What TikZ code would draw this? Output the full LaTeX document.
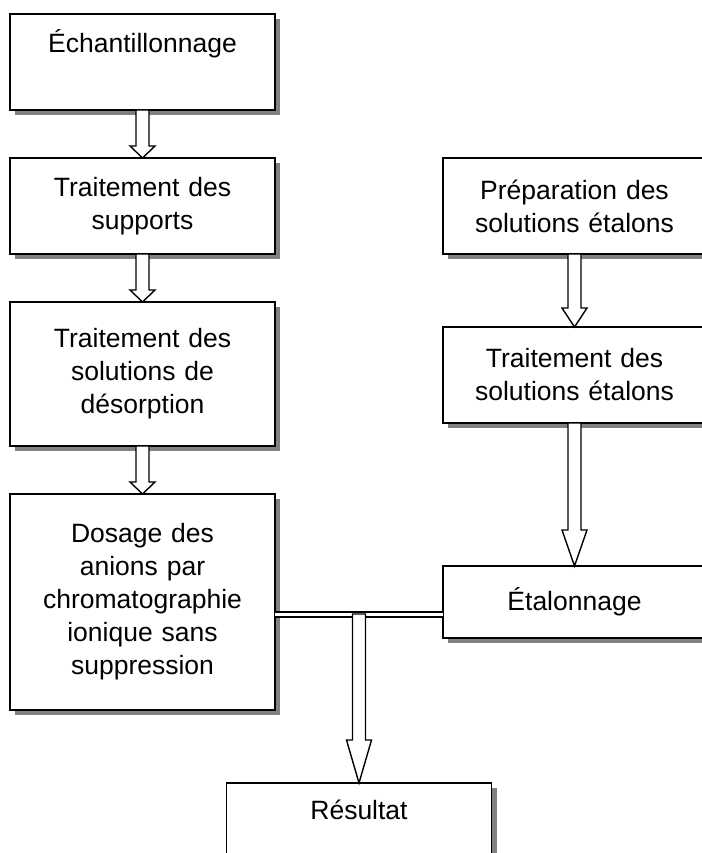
\documentclass[tikz,border=0pt]{standalone}
\usepackage{fontspec}
\setmainfont{Liberation Sans}
\usetikzlibrary{positioning,calc,shadows}
\definecolor{shade}{HTML}{808080}
\tikzset{
  stepbox/.style={draw=black,line width=1.4pt,fill=white,align=center,
                  text width=250pt,minimum width=265pt,inner sep=2pt,outer sep=0pt,
                  font=\fontsize{26.5pt}{33pt}\selectfont,
                  drop shadow={shadow xshift=5pt,shadow yshift=-5pt,fill=shade,opacity=1}},
  fatflow/.style={draw=black,line width=1.4pt,fill=white,line join=miter},
  twinline/.style={draw=black,line width=2pt,double=white,double distance=3pt},
}
% hollow block arrow: tail, tip, head length
\newcommand{\fatarrow}[3]{%
  \draw[fatflow] ([xshift=-6.5pt]#1) -- ([xshift=-6.5pt,yshift=#3]#2)
    -- ([xshift=-12.5pt,yshift=#3]#2) -- (#2)
    -- ([xshift=12.5pt,yshift=#3]#2) -- ([xshift=6.5pt,yshift=#3]#2)
    -- ([xshift=6.5pt]#1) -- cycle;}

\begin{document}
\begin{tikzpicture}[x=1pt,y=-1pt,node distance=48pt]
\useasboundingbox (0,0) rectangle (701,853);

% --- sample branch ---
\node[stepbox, minimum height=96pt] at (142.5,62) (ech) {Échantillonnage\\\strut};
\node[stepbox, minimum height=96pt, below=of ech]  (supp) {Traitement des\\supports};
\node[stepbox, minimum height=144pt, below=of supp] (deso) {Traitement des\\solutions de\\désorption};
\node[stepbox, minimum height=216pt, below=of deso] (dos)  {Dosage des\\anions par\\chromatographie\\ionique sans\\suppression};

% --- standards branch ---
\node[stepbox, minimum width=263pt, minimum height=96pt] at (574.5,206) (prep) {Préparation des\\solutions étalons};
\node[stepbox, minimum width=263pt, minimum height=96pt, below=73pt of prep] (trt) {Traitement des\\solutions étalons};
\node[stepbox, minimum width=263pt, minimum height=72pt, below=143pt of trt] (eta) {Étalonnage};

\fatarrow{ech.south}{supp.north}{12pt}
\fatarrow{supp.south}{deso.north}{12pt}
\fatarrow{deso.south}{dos.north}{12pt}
\fatarrow{prep.south}{trt.north}{19pt}
\fatarrow{trt.south}{eta.north}{36pt}

% --- both branches meet ---
\draw[twinline] ([yshift=-12pt]dos.east) -- ([yshift=-12pt]eta.west);
\coordinate (merge) at ($(dos.east)!.5!(eta.west)+(0,12)$);
\node[stepbox, minimum height=96pt, below=169pt of merge] (res) {Résultat\\\strut};
\fatarrow{merge}{res.north}{43pt}

\end{tikzpicture}
\end{document}
